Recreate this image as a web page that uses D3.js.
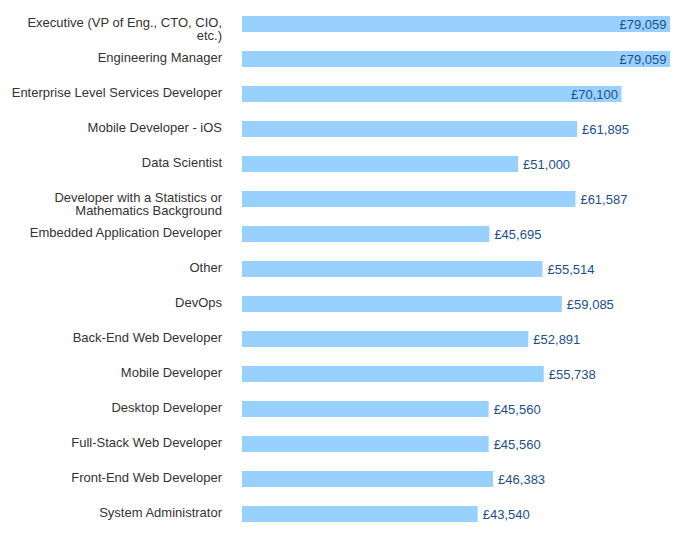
<!DOCTYPE html>
<html><head><meta charset="utf-8">
<script src="https://cdn.jsdelivr.net/npm/d3@7"></script>
<style>body{margin:0;background:#fff}svg{display:block}</style>
</head><body>
<script>
const categories = ["Executive (VP of Eng., CTO, CIO, etc.)","Engineering Manager","Enterprise Level Services Developer","Mobile Developer - iOS","Data Scientist","Developer with a Statistics or Mathematics Background","Embedded Application Developer","Other","DevOps","Back-End Web Developer","Mobile Developer","Desktop Developer","Full-Stack Web Developer","Front-End Web Developer","System Administrator"];
const salaries = [79059,79059,70100,61895,51000,61587,45695,55514,59085,52891,55738,45560,45560,46383,43540];

const W=694,H=551;
const svg=d3.select("body").append("svg").attr("width",W).attr("height",H);
const x=d3.scaleLinear().domain([0,d3.max(salaries)]).range([242,670]);
const y=d3.scaleBand().domain(categories).range([0,538]).paddingInner(19/35).paddingOuter(16/35);
const fmt=v=>"£"+d3.format(",")(v);
const font="Liberation Sans, Arial, sans-serif";

svg.selectAll("rect.bar").data(categories).join("rect")
 .attr("x",x(0)).attr("y",d=>y(d)).attr("width",(d,i)=>x(salaries[i])-x(0)).attr("height",y.bandwidth())
 .attr("fill","#99d1fe");

// category labels with wrap
const maxW=214;
const labels=svg.selectAll("text.cat").data(categories).join("text")
 .attr("text-anchor","end").attr("font-family",font).attr("font-size",13).attr("fill","#333");
labels.each(function(d){
  const t=d3.select(this);
  const words=d.split(" ");
  let lines=[],cur="";
  const tmp=t.append("tspan");
  words.forEach(w=>{
    const test=cur?cur+" "+w:w;
    tmp.text(test);
    if(tmp.node().getComputedTextLength()>maxW && cur){lines.push(cur);cur=w;} else cur=test;
  });
  lines.push(cur);
  tmp.remove();
  const cy=y(d)+y.bandwidth()/2;
  lines.forEach((l,k)=>{
    t.append("tspan").attr("x",222).attr("y",cy+3+k*13).text(l);
  });
});

// value labels
svg.selectAll("text.val").data(categories).join("text")
 .attr("font-family",font).attr("font-size",13).attr("fill","#1c4f8c")
 .text((d,i)=>fmt(salaries[i]))
 .each(function(d,i){
   const t=d3.select(this);
   const w=this.getComputedTextLength();
   const end=x(salaries[i]);
   const cy=y(d)+y.bandwidth()/2+4.5;
   if(end+5+w>668){t.attr("x",end-3.5).attr("text-anchor","end");}
   else{t.attr("x",end+5).attr("text-anchor","start");}
   t.attr("y",cy);
 });
</script>
</body></html>
